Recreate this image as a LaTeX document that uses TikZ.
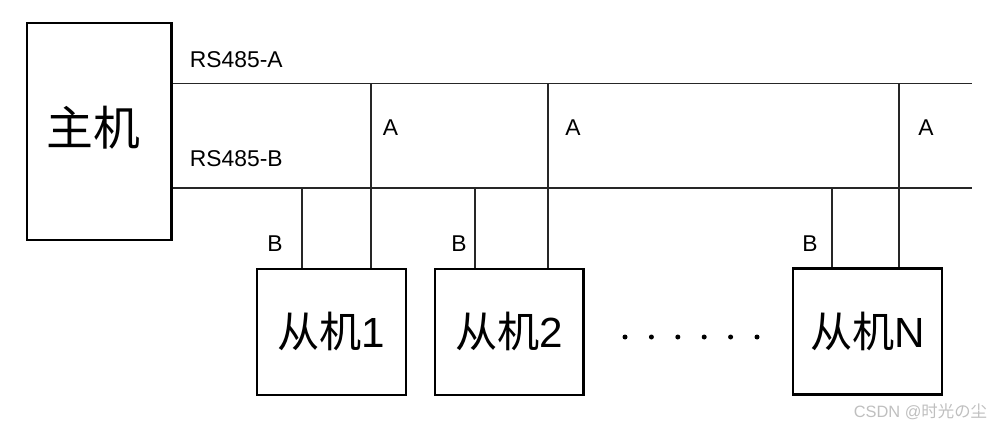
\documentclass[tikz,border=0pt]{standalone}
\usepackage{fontspec}
\setmainfont{Liberation Sans}
\newfontfamily\cjk{Noto Sans CJK SC}
\begin{document}
\begin{tikzpicture}[x=0.03cm, y=-0.03cm, line width=1.6pt,
  host/.style={draw, line width=2.1pt, minimum width=4.34cm, minimum height=6.5cm, inner sep=0pt},
  slave/.style={draw, line width=2.1pt, minimum width=4.46cm, minimum height=3.78cm, inner sep=0pt},
  tag/.style={inner sep=0pt, font=\fontsize{19.5}{22}\selectfont},
  bus/.style={line width=1.7pt, black!85},
  wmark/.style={inner sep=0pt, text=black!25, font=\fontsize{14}{16}\selectfont}]
  \useasboundingbox (0,0) rectangle (993,429);
  % 主机与从机
  \node[host] (host) at (99.1,131.6) {\raisebox{10pt}{\cjk\fontsize{40}{44}\selectfont 主机}\hspace*{9pt}};
  \node[slave] (s1) at (331.4,331.8) {\fontsize{36}{40}\selectfont{\cjk 从机}1};
  \node[slave] (s2) at (509.3,331.8) {\fontsize{36}{40}\selectfont{\cjk 从机}2};
  \node[slave] (sn) at (867.5,331.5) {\fontsize{36}{40}\selectfont{\cjk 从机}N};
  % 总线
  \coordinate (aend) at (972,83.5);
  \coordinate (bend) at (972,188);
  \draw[bus] (host.east |- aend) -- (aend);
  \draw[bus] (host.east |- bend) -- (bend);
  \node[tag, anchor=west] (lbla) at (189,60) {RS485-A};
  \node[tag, anchor=west] (lblb) at (189,159) {RS485-B};
  % 从机引线
  \coordinate (ta1) at (371,83.5);  \coordinate (tb1) at (302,188);
  \coordinate (ta2) at (548,83.5);  \coordinate (tb2) at (475,188);
  \coordinate (tan) at (899,83.5);  \coordinate (tbn) at (831.7,188);
  \draw[bus] (ta1) -- (ta1 |- s1.north); \draw[bus] (tb1) -- (tb1 |- s1.north);
  \draw[bus] (ta2) -- (ta2 |- s2.north); \draw[bus] (tb2) -- (tb2 |- s2.north);
  \draw[bus] (tan) -- (tan |- sn.north); \draw[bus] (tbn) -- (tbn |- sn.north);
  \node[tag] (a1) at (390.5,128) {A};
  \node[tag] (a2) at (573,128) {A};
  \node[tag] (an) at (926,128) {A};
  \node[tag] (b1) at (275,244) {B};
  \node[tag] (b2) at (459,244) {B};
  \node[tag] (bn) at (810,244) {B};
  % 省略号
  \foreach \i in {0,...,5}
    \fill (625+26.4*\i,337) circle[radius=0.075cm];
  \node[wmark, anchor=east] (wm) at (988,412) {CSDN @{\cjk 时光の尘}};
\end{tikzpicture}
\end{document}
